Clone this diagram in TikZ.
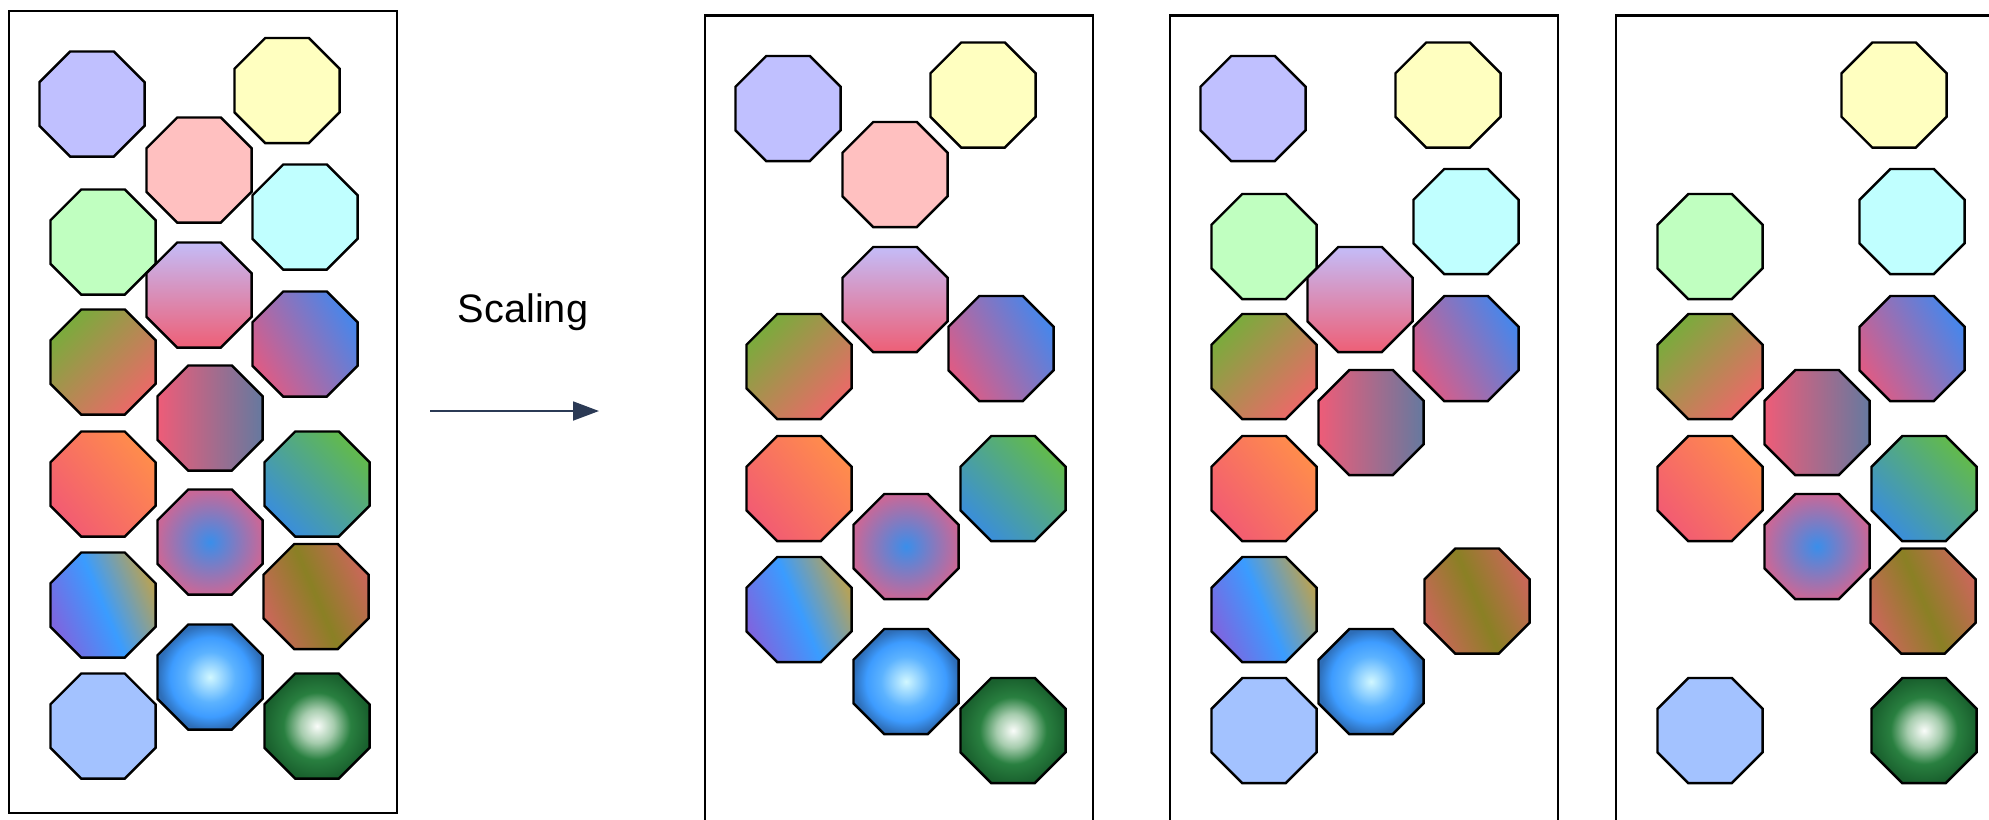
\documentclass[tikz,border=0pt]{standalone}
\usepackage{fontspec}
\setmainfont{Liberation Sans}
\usetikzlibrary{arrows.meta,shapes.geometric}

\definecolor{lavfill}{HTML}{C0C0FF}
\definecolor{yelfill}{HTML}{FFFFC0}
\definecolor{pnkfill}{HTML}{FFC0C0}
\definecolor{cynfill}{HTML}{C0FFFF}
\definecolor{grnfill}{HTML}{C0FFC0}
\definecolor{lblfill}{HTML}{A3C2FF}
\definecolor{vgrtop}{HTML}{C4BCF8}
\definecolor{vgrbot}{HTML}{EE5F76}
\definecolor{olstop}{HTML}{7AAB3C}
\definecolor{olsbot}{HTML}{EA6A68}
\definecolor{mgbtop}{HTML}{4886EA}
\definecolor{mgbbot}{HTML}{DC5C86}
\definecolor{rslleft}{HTML}{EE5C78}
\definecolor{rslright}{HTML}{65799F}
\definecolor{orrtop}{HTML}{FF8C4C}
\definecolor{orrbot}{HTML}{F25C72}
\definecolor{tlgtop}{HTML}{62BA4C}
\definecolor{tlgbot}{HTML}{3A8EDA}
\definecolor{rpbin}{HTML}{3A8EEA}
\definecolor{rpbout}{HTML}{C86898}
\definecolor{boltop}{HTML}{B4A25A}
\definecolor{bolmid}{HTML}{3A9CFF}
\definecolor{bolbot}{HTML}{7C66E0}
\definecolor{olrred}{HTML}{C86858}
\definecolor{olrmid}{HTML}{8A8024}
\definecolor{arrowcol}{HTML}{2B3A55}

\pgfdeclareradialshading{glowblue}{\pgfpoint{0bp}{0bp}}{rgb(0bp)=(0.82,0.97,1); rgb(12bp)=(0.36,0.70,1); rgb(19bp)=(0.24,0.61,1); rgb(25bp)=(0.18,0.43,0.72); rgb(50bp)=(0.15,0.36,0.60)}
\pgfdeclareradialshading{glowgreen}{\pgfpoint{0bp}{0bp}}{rgb(0bp)=(0.98,0.99,0.98); rgb(8bp)=(0.65,0.80,0.68); rgb(16bp)=(0.16,0.50,0.25); rgb(25bp)=(0.10,0.38,0.18); rgb(50bp)=(0.05,0.25,0.10)}

\begin{document}
\begin{tikzpicture}[
    oct/.style={regular polygon, regular polygon sides=8, minimum size=1.137cm, inner sep=0pt, draw=black, line width=0.7pt},
    lav/.style={oct, fill=lavfill},
    yel/.style={oct, fill=yelfill},
    pnk/.style={oct, fill=pnkfill},
    cyn/.style={oct, fill=cynfill},
    grn/.style={oct, fill=grnfill},
    lbl/.style={oct, fill=lblfill},
    vgr/.style={oct, top color=vgrtop, bottom color=vgrbot},
    ols/.style={oct, top color=olstop, bottom color=olsbot, shading angle=45},
    mgb/.style={oct, top color=mgbtop, bottom color=mgbbot, shading angle=-60},
    rsl/.style={oct, left color=rslleft, right color=rslright},
    orr/.style={oct, top color=orrtop, bottom color=orrbot, shading angle=-50},
    tlg/.style={oct, top color=tlgtop, bottom color=tlgbot, shading angle=-45},
    rpb/.style={oct, inner color=rpbin, outer color=rpbout},
    bol/.style={oct, top color=boltop, bottom color=bolbot, middle color=bolmid, shading angle=-67},
    olr/.style={oct, top color=olrred, bottom color=olrred, middle color=olrmid, shading angle=-67},
    rbl/.style={oct, shade, shading=glowblue},
    dgr/.style={oct, shade, shading=glowgreen},
    pnl/.style={draw=black, line width=0.6pt},
    arr/.style={-{Triangle[length=7.4pt, width=5.4pt]}, line width=0.55pt, draw=arrowcol, fill=arrowcol},
    txt/.style={font=\fontsize{11.3}{13}\selectfont, inner sep=0pt}
]
\useasboundingbox (0,0) rectangle (19.89,-8.19);

\draw[pnl] (0.09,-0.11) rectangle (3.97,-8.13);
\node[lav] (lavA) at (0.92,-1.04) {};
\node[yel] (yelA) at (2.87,-0.905) {};
\node[pnk] (pnkA) at (1.99,-1.70) {};
\node[cyn] (cynA) at (3.05,-2.17) {};
\node[grn] (grnA) at (1.03,-2.42) {};
\node[vgr] (vgrA) at (1.99,-2.95) {};
\node[ols] (olsA) at (1.03,-3.62) {};
\node[mgb] (mgbA) at (3.05,-3.44) {};
\node[rsl] (rslA) at (2.10,-4.18) {};
\node[orr] (orrA) at (1.03,-4.84) {};
\node[tlg] (tlgA) at (3.17,-4.84) {};
\node[rpb] (rpbA) at (2.10,-5.42) {};
\node[bol] (bolA) at (1.03,-6.05) {};
\node[olr] (olrA) at (3.16,-5.965) {};
\node[lbl] (lblA) at (1.03,-7.26) {};
\node[rbl] (rblA) at (2.10,-6.77) {};
\node[dgr] (dgrA) at (3.17,-7.26) {};

\node[txt] (scl) at (5.23,-3.12) {Scaling};
\coordinate (sclS) at (4.30,-4.11);
\coordinate (sclE) at (5.99,-4.11);
\draw[arr] (sclS) -- (sclE);

\begin{scope}[shift={(6.96,-0.045)}]
\draw[pnl] (0.09,-0.11) rectangle (3.97,-8.40);
\node[lav] (lavB) at (0.92,-1.04) {};
\node[yel] (yelB) at (2.87,-0.905) {};
\node[pnk] (pnkB) at (1.99,-1.70) {};
\node[vgr] (vgrB) at (1.99,-2.95) {};
\node[ols] (olsB) at (1.03,-3.62) {};
\node[mgb] (mgbB) at (3.05,-3.44) {};
\node[orr] (orrB) at (1.03,-4.84) {};
\node[tlg] (tlgB) at (3.17,-4.84) {};
\node[rpb] (rpbB) at (2.10,-5.42) {};
\node[bol] (bolB) at (1.03,-6.05) {};
\node[rbl] (rblB) at (2.10,-6.77) {};
\node[dgr] (dgrB) at (3.17,-7.26) {};
\end{scope}

\begin{scope}[shift={(11.61,-0.045)}]
\draw[pnl] (0.09,-0.11) rectangle (3.97,-8.40);
\node[lav] (lavC) at (0.92,-1.04) {};
\node[yel] (yelC) at (2.87,-0.905) {};
\node[cyn] (cynC) at (3.05,-2.17) {};
\node[grn] (grnC) at (1.03,-2.42) {};
\node[vgr] (vgrC) at (1.99,-2.95) {};
\node[ols] (olsC) at (1.03,-3.62) {};
\node[mgb] (mgbC) at (3.05,-3.44) {};
\node[rsl] (rslC) at (2.10,-4.18) {};
\node[orr] (orrC) at (1.03,-4.84) {};
\node[bol] (bolC) at (1.03,-6.05) {};
\node[olr] (olrC) at (3.16,-5.965) {};
\node[lbl] (lblC) at (1.03,-7.26) {};
\node[rbl] (rblC) at (2.10,-6.77) {};
\end{scope}

\begin{scope}[shift={(16.07,-0.045)}]
\draw[pnl] (0.09,-0.11) rectangle (3.97,-8.40);
\node[yel] (yelD) at (2.87,-0.905) {};
\node[cyn] (cynD) at (3.05,-2.17) {};
\node[grn] (grnD) at (1.03,-2.42) {};
\node[ols] (olsD) at (1.03,-3.62) {};
\node[mgb] (mgbD) at (3.05,-3.44) {};
\node[rsl] (rslD) at (2.10,-4.18) {};
\node[orr] (orrD) at (1.03,-4.84) {};
\node[tlg] (tlgD) at (3.17,-4.84) {};
\node[rpb] (rpbD) at (2.10,-5.42) {};
\node[olr] (olrD) at (3.16,-5.965) {};
\node[lbl] (lblD) at (1.03,-7.26) {};
\node[dgr] (dgrD) at (3.17,-7.26) {};
\end{scope}
\end{tikzpicture}
\end{document}
